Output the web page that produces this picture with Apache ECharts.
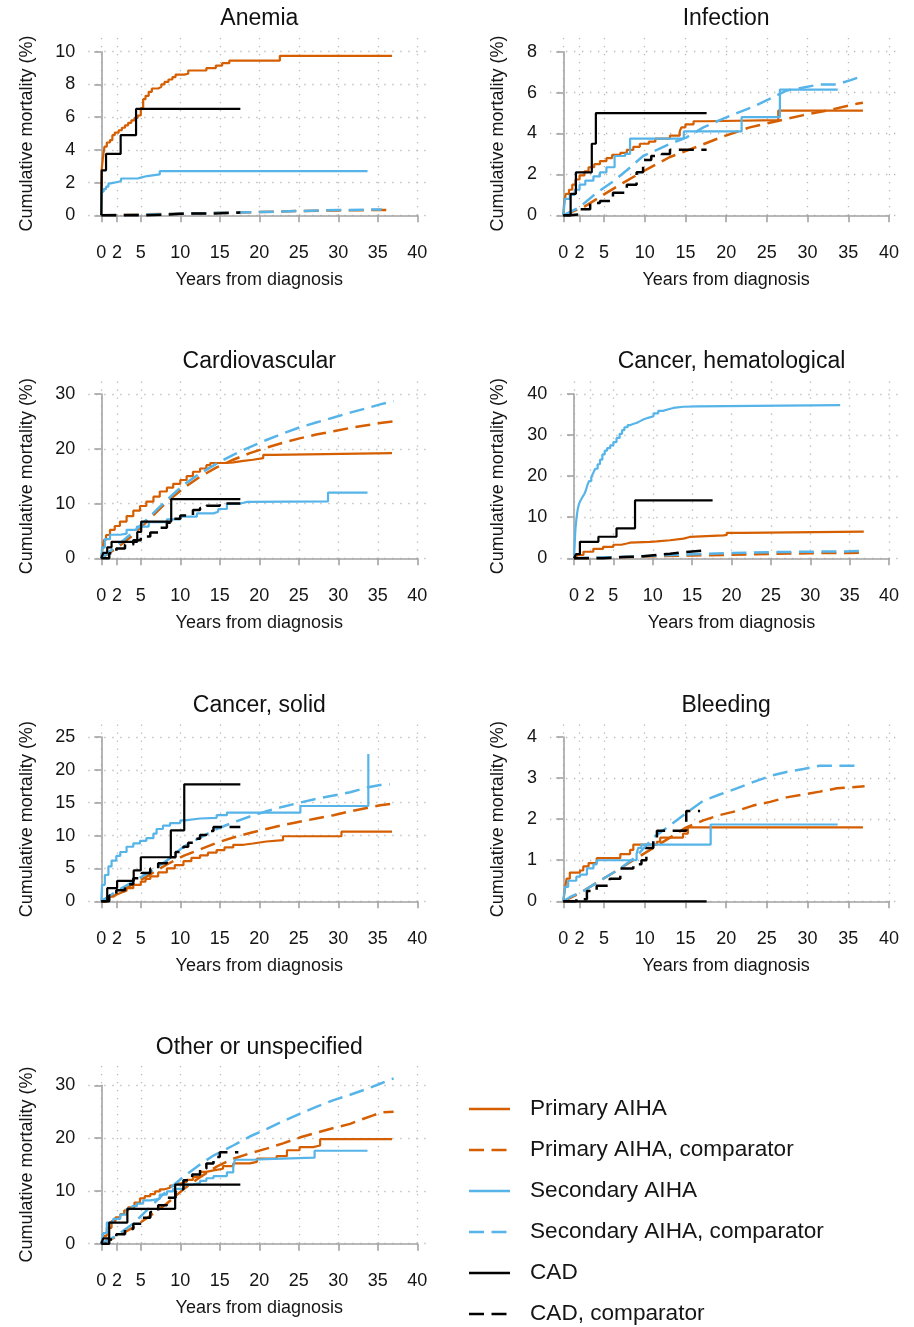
<!DOCTYPE html>
<html>
<head>
<meta charset="utf-8">
<title>Cumulative mortality by cause</title>
<script src="https://cdn.jsdelivr.net/npm/echarts@6/dist/echarts.min.js"></script>
<style>
  html, body { margin: 0; padding: 0; background: #fff; }
  #chart { width: 914px; height: 1327px; }
</style>
</head>
<body>
<div id="chart"></div>
<script>
// series names (legend order)
var SERIES_NAMES = ['Primary AIHA', 'Primary AIHA, comparator', 'Secondary AIHA',
    'Secondary AIHA, comparator', 'CAD', 'CAD, comparator'];

var X_TICKS = [0, 2, 5, 10, 15, 20, 25, 30, 35, 40];

// ---- Anemia ----
var ANEMIA_Y_TICKS = [0, 2, 4, 6, 8, 10];
var ANEMIA_PRI = [[0,0],[0.05,2.8],[0.2,3.5],[0.4,4.2],[0.7,4.45],[1.1,4.6],[1.4,4.9],[1.7,5.05],[2.2,5.2],[2.6,5.35],[3.0,5.5],[3.4,5.65],[3.8,5.8],[4.2,5.95],[4.6,6.1],[5.0,6.55],[5.3,7.1],[5.6,7.3],[6.0,7.55],[6.4,7.75],[7.2,7.85],[7.6,8.0],[8.0,8.15],[8.5,8.3],[9.0,8.45],[9.4,8.6],[10.5,8.65],[11.0,8.85],[13.3,9.0],[14.5,9.15],[15.3,9.3],[16.2,9.45],[22.6,9.75],[36.8,9.75]];
var ANEMIA_PRI_COMP = [[0,0],[5,0.05],[10,0.1],[15,0.15],[20,0.2],[25,0.26],[30,0.3],[37,0.33]];
var ANEMIA_SEC = [[0,0],[0.02,1.45],[0.3,1.6],[0.6,1.75],[0.9,1.95],[1.2,2.05],[2.2,2.1],[2.5,2.25],[4.6,2.3],[5.0,2.4],[5.8,2.5],[7.4,2.7],[33.7,2.7]];
var ANEMIA_SEC_COMP = [[0,0],[5,0.04],[10,0.1],[15,0.15],[20,0.2],[25,0.26],[30,0.32],[35.5,0.36]];
var ANEMIA_CAD = [[0,0],[0.05,2.75],[0.6,3.75],[2.45,4.9],[4.4,6.5],[17.6,6.5]];
var ANEMIA_CAD_COMP = [[0,0],[5,0.04],[8,0.1],[10,0.12],[15,0.17],[17.6,0.18]];

// ---- Infection ----
var INF_Y_TICKS = [0, 2, 4, 6, 8];
var INF_PRI = [[0,0],[0.1,0.6],[0.3,1.05],[0.7,1.25],[1.1,1.5],[1.5,1.75],[2.0,1.95],[2.6,2.15],[3.1,2.35],[3.8,2.5],[4.5,2.65],[5.3,2.8],[6.0,2.95],[7.0,3.05],[7.8,3.2],[8.6,3.35],[9.4,3.5],[10.5,3.6],[11.3,3.75],[13.1,3.9],[14.3,4.1],[14.5,4.3],[15.0,4.45],[16.0,4.6],[17.5,4.65],[26.4,5.12],[36.8,5.12]];
var INF_PRI_COMP = [[0,0],[2.5,0.4],[4.9,1.0],[7.4,1.6],[9.8,2.15],[13.1,2.85],[16.4,3.35],[19.6,3.85],[22.9,4.3],[26.2,4.6],[29.5,4.9],[32.7,5.15],[36,5.45],[36.8,5.5]];
var INF_SEC = [[0,0],[0.2,0.8],[0.8,1.0],[1.4,1.25],[2.0,1.5],[2.7,1.7],[3.7,1.9],[4.5,2.1],[5.3,2.35],[6.3,2.9],[7.6,3.0],[8.2,3.75],[14.8,4.1],[21.9,4.8],[26.6,6.15],[33.7,6.15]];
var INF_SEC_COMP = [[0,0],[2.0,0.4],[4.1,1.1],[6.1,1.65],[7.8,2.2],[9.8,2.9],[11.5,3.2],[13.1,3.5],[15.1,3.8],[17.2,4.3],[19.2,4.65],[21.3,5.0],[23.3,5.3],[25.4,5.7],[27.4,6.1],[29.5,6.25],[31.5,6.4],[33.6,6.4],[35.2,6.6],[36.3,6.75]];
var INF_CAD = [[0,0],[0.9,1.05],[1.55,2.1],[3.5,3.5],[4.0,5.0],[17.6,5.0]];
var INF_CAD_COMP = [[0,0],[0.8,0.05],[2.0,0.3],[3.3,0.6],[4.5,0.7],[6.1,1.1],[7.8,1.5],[9.0,2.1],[9.8,2.7],[10.8,2.9],[12.1,3.0],[13.1,3.2],[17.6,3.2]];

// ---- Cardiovascular ----
var CV_Y_TICKS = [0, 10, 20, 30];
var CV_PRI = [[0,0],[0.13,1.5],[0.34,3.35],[0.6,4.25],[1.1,5.2],[1.7,5.9],[2.36,6.7],[3.2,7.7],[4.05,8.7],[4.9,9.55],[5.7,10.35],[6.6,11.25],[7.4,12.2],[8.3,12.9],[9.1,13.6],[10.0,14.3],[10.8,15.0],[11.6,15.8],[12.5,16.4],[13.3,17.0],[13.8,17.4],[15.9,17.5],[16.7,17.8],[18.0,18.0],[19.2,18.3],[20.5,18.9],[21.8,19.2],[36.8,19.2]];
var CV_PRI_COMP = [[0,0],[1.9,1.8],[4.05,4.3],[6.2,7.3],[8.3,10.3],[10.4,12.8],[12.5,14.9],[14.6,16.6],[16.7,18.0],[18.8,19.2],[20.9,20.2],[23.0,21.1],[25.1,21.9],[27.2,22.6],[29.4,23.2],[31.5,23.8],[33.6,24.3],[35.3,24.7],[37,25.0]];
var CV_SEC = [[0,0],[0.1,2.0],[0.45,3.5],[1.1,4.3],[2.4,4.5],[3.2,5.2],[4.5,5.8],[6.0,6.6],[8.3,7.1],[10.0,7.6],[12.1,8.2],[14.2,8.5],[14.8,9.0],[15.9,10.0],[17.6,10.3],[18.5,10.4],[28.7,12.0],[33.7,12.0]];
var CV_SEC_COMP = [[0,0],[1.9,2.2],[4.05,4.8],[6.2,7.7],[8.3,10.65],[10.4,13.4],[12.5,15.5],[14.6,17.3],[16.7,18.9],[18.8,20.3],[20.9,21.6],[23.0,22.8],[25.1,23.9],[27.2,24.8],[29.4,25.7],[31.5,26.6],[33.6,27.4],[35.3,28.1],[37,28.7]];
var CV_CAD = [[0,0],[0.25,1.0],[0.75,2.0],[1.3,3.0],[4.55,4.8],[5.05,6.7],[8.85,10.8],[17.6,10.8]];
var CV_CAD_COMP = [[0,0],[1.0,0.9],[1.9,1.8],[3.0,2.5],[4.05,3.3],[5.0,4.0],[6.2,4.7],[7.2,5.6],[8.3,6.5],[9.2,7.2],[10.0,7.8],[11.6,8.8],[12.5,9.2],[13.3,9.6],[15.0,10.0],[17.6,10.0]];

// ---- Cancer, hematological ----
var HEM_Y_TICKS = [0, 10, 20, 30, 40];
var HEM_PRI = [[0,0],[0.35,0.8],[1.2,1.6],[2.45,2.3],[3.7,2.8],[5.0,3.3],[6.0,3.6],[6.7,3.8],[7.1,4.0],[9.6,4.1],[10.5,4.4],[12.2,4.8],[13.9,5.2],[14.7,5.6],[19.0,5.7],[19.4,6.2],[21.5,6.5],[36.8,6.5]];
var HEM_PRI_COMP = [[0,0],[5,0.25],[10,0.5],[15,0.7],[20,0.85],[25,1.05],[30,1.25],[35,1.3],[37,1.4]];
var HEM_SEC = [[0,0],[0.05,2],[0.1,4],[0.15,6],[0.2,7.5],[0.3,9.5],[0.4,11],[0.5,12.2],[0.6,13],[0.75,13.8],[0.9,14.3],[1.1,15],[1.3,15.6],[1.5,16.5],[1.7,17.8],[1.9,18.8],[2.2,19.8],[2.45,20.8],[2.7,21.8],[3.0,22.9],[3.3,24],[3.6,25.3],[3.9,26.2],[4.2,26.8],[4.6,27.5],[5.0,28.3],[5.4,29.3],[5.8,30.3],[6.1,31.2],[6.4,31.9],[6.8,32.4],[7.1,32.7],[7.5,33],[8.0,33.4],[8.4,33.8],[8.8,34.2],[9.4,34.6],[10.1,35.3],[10.7,35.9],[11.3,36.3],[12.0,36.6],[12.6,36.9],[13.9,37.0],[15.6,37.3],[33.8,37.3]];
var HEM_SEC_COMP = [[0,0],[5,0.3],[10,0.6],[15,1.0],[20,1.3],[25,1.5],[30,1.6],[35,1.7],[37,1.85]];
var HEM_CAD = [[0,0],[0.25,1.0],[0.75,4.0],[3.1,5.25],[5.4,7.3],[7.75,14.1],[17.6,14.1]];
var HEM_CAD_COMP = [[0,0],[3.7,0.3],[6.3,0.5],[8.8,0.8],[10.5,1.1],[12.2,1.5],[13.9,1.9],[16.4,1.9]];

// ---- Cancer, solid ----
var SOLID_Y_TICKS = [0, 5, 10, 15, 20, 25];
var SOLID_PRI = [[0,0],[0.5,0.3],[1.0,0.7],[1.5,1.0],[1.9,1.3],[2.5,1.6],[3.2,2.0],[4.05,2.5],[5.0,3.0],[5.6,3.4],[6.2,3.8],[7.2,4.4],[8.3,5.0],[9.3,5.5],[10.4,6.1],[11.4,6.6],[12.5,7.0],[13.5,7.4],[14.6,7.8],[15.6,8.2],[16.7,8.6],[18.0,8.8],[19.2,9.1],[20.9,9.3],[23.0,9.9],[30.4,10.6],[36.8,10.6]];
var SOLID_PRI_COMP = [[0,0],[1.9,1.3],[4.05,2.6],[6.2,4.1],[8.3,5.6],[10.4,6.9],[12.5,7.9],[14.6,8.9],[16.7,9.7],[18.8,10.4],[20.9,11.0],[23.0,11.6],[25.1,12.1],[27.2,12.6],[29.4,13.1],[31.5,13.7],[33.6,14.2],[35.3,14.6],[37,14.9]];
var SOLID_SEC = [[0,0],[0.1,2.5],[0.45,4.0],[0.9,5.3],[1.3,6.2],[1.9,6.9],[2.4,7.5],[3.2,8.3],[4.05,8.8],[4.9,9.2],[5.7,9.6],[6.6,10.3],[7.0,11.0],[7.8,11.5],[8.7,11.9],[10.0,12.3],[10.6,12.6],[12.5,12.7],[14.6,13.1],[15.9,13.5],[25.2,14.5],[33.8,22.4]];
var SOLID_SEC_COMP = [[0,0],[1.9,1.5],[4.05,3.0],[6.2,4.5],[8.3,6.2],[10.4,8.3],[12.5,9.7],[14.6,11.0],[16.7,12.0],[18.8,12.9],[20.9,13.7],[23.0,14.4],[25.1,15.0],[27.2,15.6],[29.4,16.1],[31.5,16.6],[33.6,17.3],[35.3,17.7],[36.5,17.8]];
var SOLID_CAD = [[0,0],[0.75,2.0],[2.0,3.1],[4.1,4.7],[5.0,6.7],[8.8,10.8],[10.5,17.8],[17.6,17.8]];
var SOLID_CAD_COMP = [[0,0],[1.0,0.9],[1.9,1.7],[3.0,2.6],[4.05,3.5],[5.1,4.3],[6.2,5.0],[7.2,5.8],[8.3,6.7],[9.4,7.5],[10.4,8.3],[11.0,8.9],[11.6,9.5],[12.5,10.1],[13.3,10.7],[14.2,11.3],[17.6,11.3]];

// ---- Bleeding ----
var BLEED_Y_TICKS = [0, 1, 2, 3, 4];
var BLEED_PRI = [[0,0],[0.2,0.3],[0.4,0.55],[0.8,0.7],[2.05,0.75],[2.45,0.85],[3.1,0.93],[4.1,1.05],[7.0,1.15],[8.2,1.25],[8.6,1.38],[11.5,1.45],[11.9,1.55],[14.7,1.65],[15.3,1.8],[36.8,1.8]];
var BLEED_PRI_COMP = [[0,0],[2.05,0.2],[4.9,0.55],[7.0,0.8],[9.0,1.05],[11.05,1.3],[13.1,1.55],[15.1,1.8],[17.2,1.97],[19.2,2.1],[21.3,2.2],[23.3,2.33],[25.4,2.42],[27.4,2.53],[29.5,2.6],[31.5,2.67],[33.6,2.75],[37,2.8]];
var BLEED_SEC = [[0,0],[0.2,0.35],[0.6,0.5],[1.6,0.6],[2.05,0.65],[2.9,0.8],[3.7,0.9],[4.1,1.0],[9.0,1.15],[9.2,1.3],[9.6,1.38],[18.1,1.87],[33.7,1.87]];
var BLEED_SEC_COMP = [[0,0],[0.8,0.1],[2.45,0.25],[4.9,0.55],[7.0,0.8],[9.0,1.1],[11.05,1.55],[13.1,1.85],[15.1,2.15],[17.2,2.45],[19.2,2.6],[21.3,2.75],[23.3,2.9],[25.4,3.05],[27.4,3.15],[29.5,3.22],[31.5,3.3],[36.4,3.3]];
var BLEED_CAD = [[0,0],[17.6,0]];
var BLEED_CAD_COMP = [[0,0],[1.6,0.05],[2.9,0.25],[4.1,0.38],[5.7,0.55],[7.0,0.8],[8.6,0.9],[9.6,1.0],[10.2,1.3],[11.05,1.55],[11.5,1.72],[15.1,2.2],[16.8,2.2]];

// ---- Other or unspecified ----
var OTHER_Y_TICKS = [0, 10, 20, 30];
var OTHER_PRI = [[0,0],[0.25,1.5],[0.7,3.0],[1.3,4.3],[1.8,5.0],[2.4,5.6],[2.9,6.3],[3.4,6.9],[4.2,7.8],[4.9,8.6],[5.5,9.0],[6.2,9.4],[6.8,9.9],[7.4,10.3],[8.0,10.6],[8.7,11.0],[9.4,11.4],[10.0,11.7],[10.8,12.1],[11.6,12.6],[12.5,13.6],[13.3,13.9],[14.2,14.2],[15.4,14.7],[16.7,15.2],[18.8,15.5],[19.7,16.1],[22.2,16.6],[23.5,17.7],[25.1,18.3],[26.8,18.6],[27.7,19.8],[36.8,19.8]];
var OTHER_PRI_COMP = [[0,0],[1.9,1.3],[4.05,3.1],[6.2,5.3],[8.3,7.6],[10.4,10.3],[12.5,12.6],[14.6,14.6],[16.7,16.1],[18.8,17.1],[20.9,18.0],[23.0,19.0],[25.1,20.1],[27.2,21.0],[29.4,21.9],[31.5,22.7],[32.7,23.4],[34.4,24.3],[35.5,24.9],[37,25.0]];
var OTHER_SEC = [[0,0],[0.25,2.0],[0.7,4.0],[1.5,4.7],[2.4,5.5],[3.2,6.6],[3.9,7.1],[4.5,7.6],[5.3,8.2],[6.2,8.5],[7.4,9.3],[8.3,9.9],[9.1,10.4],[10.4,11.2],[11.5,11.5],[12.5,11.9],[13.3,12.4],[14.2,12.8],[15.9,13.5],[16.7,14.5],[16.9,15.9],[19.2,16.0],[20.9,16.3],[27.0,17.6],[33.7,17.6]];
var OTHER_SEC_COMP = [[0,0],[1.9,1.5],[4.05,3.8],[6.2,7.0],[8.3,10.0],[10.4,12.7],[12.5,15.0],[14.2,16.7],[16.7,18.6],[18.8,20.3],[20.9,21.7],[23.0,23.2],[25.1,24.6],[27.2,25.9],[29.4,27.2],[31.5,28.2],[33.6,29.3],[35.3,30.3],[37,31.3]];
var OTHER_CAD = [[0,0],[0.25,1.0],[1.0,4.0],[3.3,6.6],[9.35,11.2],[17.6,11.2]];
var OTHER_CAD_COMP = [[0,0],[1.0,0.8],[1.9,1.8],[3.0,2.8],[4.05,3.8],[5.1,4.9],[6.2,6.0],[7.2,7.3],[8.3,8.7],[9.4,10.3],[10.4,12.0],[11.5,13.1],[12.5,14.2],[13.3,15.2],[14.2,16.4],[15.0,17.3],[17.35,17.3]];

var PANELS = [
    {title: 'Anemia', yTicks: ANEMIA_Y_TICKS,
     data: [ANEMIA_PRI, ANEMIA_PRI_COMP, ANEMIA_SEC, ANEMIA_SEC_COMP, ANEMIA_CAD, ANEMIA_CAD_COMP]},
    {title: 'Infection', yTicks: INF_Y_TICKS,
     data: [INF_PRI, INF_PRI_COMP, INF_SEC, INF_SEC_COMP, INF_CAD, INF_CAD_COMP]},
    {title: 'Cardiovascular', yTicks: CV_Y_TICKS,
     data: [CV_PRI, CV_PRI_COMP, CV_SEC, CV_SEC_COMP, CV_CAD, CV_CAD_COMP]},
    {title: 'Cancer, hematological', yTicks: HEM_Y_TICKS,
     data: [HEM_PRI, HEM_PRI_COMP, HEM_SEC, HEM_SEC_COMP, HEM_CAD, HEM_CAD_COMP]},
    {title: 'Cancer, solid', yTicks: SOLID_Y_TICKS,
     data: [SOLID_PRI, SOLID_PRI_COMP, SOLID_SEC, SOLID_SEC_COMP, SOLID_CAD, SOLID_CAD_COMP]},
    {title: 'Bleeding', yTicks: BLEED_Y_TICKS,
     data: [BLEED_PRI, BLEED_PRI_COMP, BLEED_SEC, BLEED_SEC_COMP, BLEED_CAD, BLEED_CAD_COMP]},
    {title: 'Other or unspecified', yTicks: OTHER_Y_TICKS,
     data: [OTHER_PRI, OTHER_PRI_COMP, OTHER_SEC, OTHER_SEC_COMP, OTHER_CAD, OTHER_CAD_COMP]}
];

// pixel layout of each panel: x of year 0 / 40, y of value 0 / top tick, axis line positions
var LAYOUT = [
    {x0: 101.3, x40: 417.3, axisX: 87.3, y0: 215.3, yTop: 51.7, axisY: 229.3, plotTop: 38, titleY: 18.8, yGap: 50},
    {x0: 563.3, x40: 889, axisX: 549, y0: 215.3, yTop: 51.7, axisY: 229.3, plotTop: 38, titleY: 18.8, yGap: 41},
    {x0: 101.3, x40: 417.3, axisX: 87.3, y0: 558.3, yTop: 394, axisY: 572.3, plotTop: 381.5, titleY: 361.5, yGap: 50},
    {x0: 574, x40: 889, axisX: 559.3, y0: 558.3, yTop: 394, axisY: 572.3, plotTop: 381.5, titleY: 361.5, yGap: 51},
    {x0: 101.3, x40: 417.3, axisX: 87.3, y0: 901.3, yTop: 737, axisY: 915.3, plotTop: 724.5, titleY: 705.2, yGap: 50},
    {x0: 563.3, x40: 889, axisX: 549, y0: 901.3, yTop: 737, axisY: 915.3, plotTop: 724.5, titleY: 705.2, yGap: 41},
    {x0: 101.3, x40: 417.3, axisX: 87.3, y0: 1243.7, yTop: 1085.3, axisY: 1257, plotTop: 1066, titleY: 1047.5, yGap: 50}
];

var ORANGE = '#D55E00', BLUE = '#56B4E9', BLACK = '#000000';
var DASH = [15, 7.5];
var SERIES_STYLE = [
    {color: ORANGE, type: 'solid', step: 'end', width: 2.2},
    {color: ORANGE, type: DASH, step: false, width: 2.5},
    {color: BLUE, type: 'solid', step: 'end', width: 2.2},
    {color: BLUE, type: DASH, step: false, width: 2.5},
    {color: BLACK, type: 'solid', step: 'end', width: 2.2},
    {color: BLACK, type: DASH, step: 'end', width: 2.5}
];

var FONT = "'Liberation Sans', Arial, Helvetica, sans-serif";
var AXIS_GREY = '#a3a3a3';
var TEXT = '#151515';

var option = {
    animation: false,
    backgroundColor: '#ffffff',
    textStyle: {fontFamily: FONT},
    title: [], grid: [], xAxis: [], yAxis: [], series: [],
    legend: {
        orient: 'vertical',
        left: 467.7, top: 1097, padding: 0,
        itemWidth: 41, itemHeight: 14, itemGap: 17,
        selectedMode: false,
        data: SERIES_NAMES,
        itemStyle: {opacity: 0},
        lineStyle: {width: 2.6},
        textStyle: {fontSize: 22.6, lineHeight: 24, color: TEXT, fontFamily: FONT, padding: [0, 0, 0, 15]}
    }
};

PANELS.forEach(function (p, i) {
    var L = LAYOUT[i];
    var yMax = p.yTicks[p.yTicks.length - 1];
    var pxYear = (L.x40 - L.x0) / 40;
    var pxUnit = (L.y0 - L.yTop) / yMax;
    var left = L.axisX + 1, right = L.x40 + 11, top = L.plotTop, bottom = L.y0 + 6.5;

    // grid 2i: full plotting region (data + dotted grid)
    option.grid.push({left: left, top: top, width: right - left, height: bottom - top});
    // grid 2i+1: axis frame from tick 0 to last tick
    option.grid.push({left: L.x0, top: L.yTop, width: L.x40 - L.x0, height: L.y0 - L.yTop});

    var dotted = {show: true, lineStyle: {color: '#b8b8b8', width: 1.3, type: [1.3, 6.7]}};
    option.xAxis.push({
        gridIndex: 2 * i, type: 'value',
        min: -(L.x0 - left) / pxYear, max: 40 + (right - L.x40) / pxYear,
        axisLine: {show: false}, axisLabel: {show: false},
        axisTick: {show: false, customValues: X_TICKS},
        splitLine: dotted
    });
    option.yAxis.push({
        gridIndex: 2 * i, type: 'value',
        min: -(bottom - L.y0) / pxUnit, max: (L.y0 - top) / pxUnit,
        axisLine: {show: false}, axisLabel: {show: false},
        axisTick: {show: false, customValues: p.yTicks},
        splitLine: dotted
    });

    var axLine = {show: true, lineStyle: {color: AXIS_GREY, width: 1.6}};
    option.xAxis.push({
        gridIndex: 2 * i + 1, type: 'value', min: 0, max: 40,
        offset: L.axisY - L.y0,
        axisLine: axLine,
        axisTick: {show: true, length: 7, customValues: X_TICKS, lineStyle: {color: AXIS_GREY, width: 1.6}},
        axisLabel: {customValues: X_TICKS, fontSize: 18, lineHeight: 20, color: TEXT, margin: 14, fontFamily: FONT},
        splitLine: {show: false},
        name: 'Years from diagnosis', nameLocation: 'middle', nameGap: 41,
        nameTextStyle: {fontSize: 18, lineHeight: 20, color: TEXT, fontFamily: FONT}
    });
    option.yAxis.push({
        gridIndex: 2 * i + 1, type: 'value', min: 0, max: yMax,
        interval: p.yTicks[1] - p.yTicks[0],
        offset: L.x0 - L.axisX,
        axisLine: axLine,
        axisTick: {show: true, length: 7, lineStyle: {color: AXIS_GREY, width: 1.6}},
        axisLabel: {fontSize: 18, lineHeight: 20, color: TEXT, margin: 12, fontFamily: FONT},
        splitLine: {show: false},
        name: 'Cumulative mortality (%)', nameLocation: 'middle', nameGap: L.yGap, nameRotate: 90,
        nameTextStyle: {fontSize: 18, lineHeight: 20, color: TEXT, fontFamily: FONT}
    });

    option.title.push({
        text: p.title, left: (L.x0 + L.x40) / 2, top: L.titleY - 13,
        textAlign: 'center', padding: 0,
        textStyle: {fontSize: 23, lineHeight: 26, fontWeight: 'normal', color: '#111', fontFamily: FONT}
    });

    p.data.forEach(function (d, k) {
        var s = SERIES_STYLE[k];
        option.series.push({
            type: 'line', name: SERIES_NAMES[k],
            xAxisIndex: 2 * i, yAxisIndex: 2 * i,
            data: d, step: s.step,
            symbol: 'none', showSymbol: false, silent: true,
            color: s.color,
            lineStyle: {color: s.color, width: s.width, type: s.type}
        });
    });
});

var chart = echarts.init(document.getElementById('chart'), null, {renderer: 'canvas'});
chart.setOption(option);
</script>
</body>
</html>
